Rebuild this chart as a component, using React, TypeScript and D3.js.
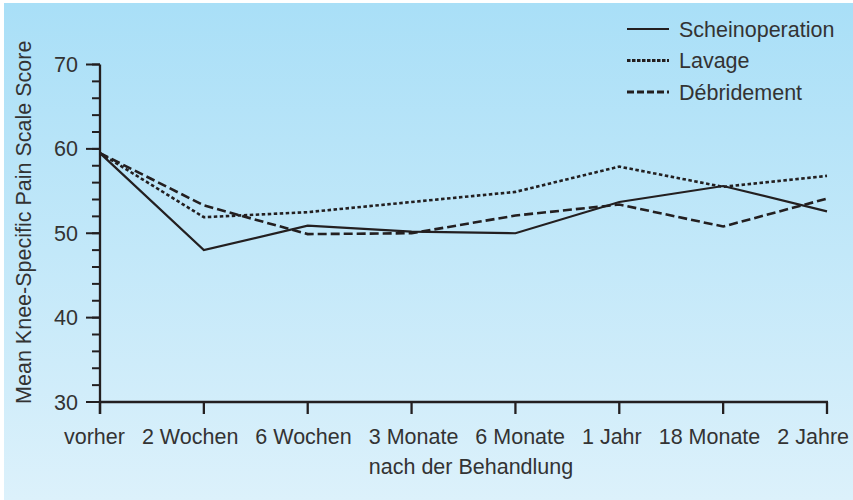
import React from "react";
import * as d3 from "d3";

const categories = ["vorher", "2 Wochen", "6 Wochen", "3 Monate", "6 Monate", "1 Jahr", "18 Monate", "2 Jahre"];
const scheinoperation = [59.5, 48.0, 50.9, 50.2, 50.0, 53.7, 55.6, 52.6];
const lavage = [59.5, 51.9, 52.5, 53.7, 54.9, 57.9, 55.5, 56.8];
const debridement = [59.5, 53.3, 49.9, 50.0, 52.1, 53.4, 50.8, 54.1];
const yTicks = [30, 40, 50, 60, 70];
const yMinorTicks = d3.range(30, 71, 2);

const seriesList = [
  { name: "Scheinoperation", values: scheinoperation, dash: "", legendDash: "" },
  { name: "Lavage", values: lavage, dash: "3.5 2.5", legendDash: "3.5 1.5" },
  { name: "Débridement", values: debridement, dash: "9 4", legendDash: "7 3" },
];

const W = 853;
const H = 500;
const FONT = "'Liberation Sans', Arial, sans-serif";
const FS = 21.5;
const TEXT = "#333333";
const INK = "#231f20";

function measure(texts: string[]): number[] {
  try {
    const ctx = document.createElement("canvas").getContext("2d");
    if (!ctx) throw new Error("no ctx");
    ctx.font = `${FS}px 'Liberation Sans', Arial, sans-serif`;
    return texts.map((t) => ctx.measureText(t).width);
  } catch {
    return texts.map((t) => t.length * FS * 0.52);
  }
}

export default function App() {
  const x = d3.scalePoint<string>().domain(categories).range([100, 827]);
  const y = d3.scaleLinear().domain([30, 70]).range([402, 64.5]);
  const line = d3
    .line<number>()
    .x((_, i) => x(categories[i]) as number)
    .y((d) => y(d));

  // tick labels are set as a justified row spanning the label band
  const widths = measure(categories);
  const bandLeft = 64;
  const bandRight = 849;
  const gap = (bandRight - bandLeft - d3.sum(widths)) / (categories.length - 1);
  const labelStarts: number[] = [];
  let cur = bandLeft;
  widths.forEach((w) => {
    labelStarts.push(cur);
    cur += w + gap;
  });

  return (
    <svg
      width={W}
      height={H}
      style={{ position: "absolute", left: 0, top: 0, display: "block" }}
      fontFamily={FONT}
    >
      <defs>
        <linearGradient id="bg" x1="0" y1="0" x2="0" y2="1">
          <stop offset="0%" stopColor="#a9dff7" />
          <stop offset="100%" stopColor="#dcf1fb" />
        </linearGradient>
      </defs>
      <rect x={0} y={0} width={W} height={H} fill="#ffffff" />
      <rect x={4} y={3} width={W - 4} height={H - 3} fill="url(#bg)" />

      {/* y axis */}
      <line x1={100} x2={100} y1={y(70)} y2={414} stroke={INK} strokeWidth={2.3} />
      {yMinorTicks.map((t) => (
        <line key={"m" + t} x1={92} x2={100} y1={y(t)} y2={y(t)} stroke={INK} strokeWidth={2} />
      ))}
      {yTicks.map((t) => (
        <g key={t}>
          <line x1={86} x2={100} y1={y(t)} y2={y(t)} stroke={INK} strokeWidth={2} />
          <text x={78} y={y(t)} dy="0.35em" textAnchor="end" fontSize={FS} fill={TEXT}>
            {t}
          </text>
        </g>
      ))}

      {/* x axis */}
      <line x1={100} x2={828} y1={y(30)} y2={y(30)} stroke={INK} strokeWidth={2.3} />
      {categories.map((c, i) => (
        <g key={c}>
          <line x1={x(c)} x2={x(c)} y1={y(30)} y2={414} stroke={INK} strokeWidth={2.3} />
          <text x={labelStarts[i]} y={444} textAnchor="start" fontSize={FS} fill={TEXT}>
            {c}
          </text>
        </g>
      ))}

      <text x={471} y={474} textAnchor="middle" fontSize={FS} fill={TEXT}>
        nach der Behandlung
      </text>
      <text
        transform={`translate(31, ${y(50) - 11}) rotate(-90)`}
        textAnchor="middle"
        fontSize={FS}
        fill={TEXT}
      >
        Mean Knee-Specific Pain Scale Score
      </text>

      {/* series */}
      {seriesList.map((s) => (
        <path
          key={s.name}
          d={line(s.values) || ""}
          fill="none"
          stroke={INK}
          strokeWidth={s.dash ? 2.6 : 2.2}
          strokeDasharray={s.dash || undefined}
          strokeLinejoin="miter"
        />
      ))}

      {/* legend */}
      {seriesList.map((s, i) => {
        const ly = 29 + i * 31.5;
        return (
          <g key={"lg" + s.name}>
            <line
              x1={627}
              x2={669}
              y1={ly}
              y2={ly}
              stroke={INK}
              strokeWidth={s.dash ? 2.8 : 2.2}
              strokeDasharray={s.legendDash || undefined}
            />
            <text x={679} y={ly} dy="0.35em" fontSize={FS} fill={TEXT}>
              {s.name}
            </text>
          </g>
        );
      })}
    </svg>
  );
}
